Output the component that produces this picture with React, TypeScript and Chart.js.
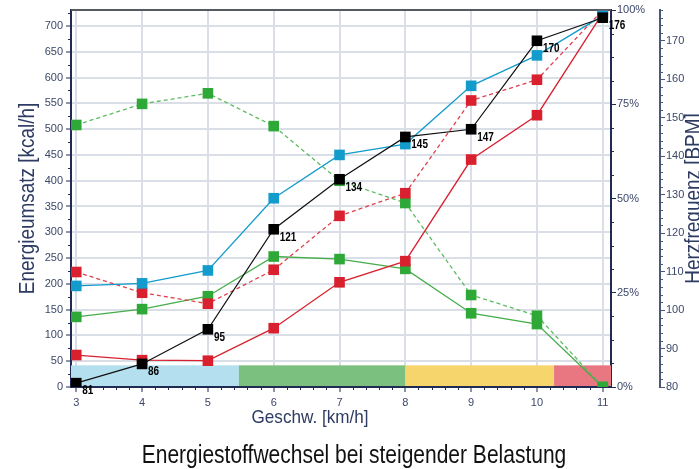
import React, { useEffect, useRef } from 'react';
import { Chart, registerables } from 'chart.js';

Chart.register(...registerables);

// ---------- data ----------
const speeds = [3, 4, 5, 6, 7, 8, 9, 10, 11];
const totalKcal = [196, 201, 226, 366, 450, 471, 584, 643, 720];
const fatKcal = [136, 151, 176, 253, 248, 229, 143, 122, 0];
const carbKcal = [62, 52, 51, 114, 203, 244, 441, 527, 725];
const fatPct = [69.5, 75.1, 77.9, 69.2, 54.7, 48.8, 24.4, 18.9, 0];
const carbPct = [30.5, 25.0, 22.1, 31.1, 45.4, 51.4, 76.0, 81.5, 100];
const heartRate = [81, 86, 95, 121, 134, 145, 147, 170, 176];

const xTicks = [3, 4, 5, 6, 7, 8, 9, 10, 11];
const kcalTicks = [0, 50, 100, 150, 200, 250, 300, 350, 400, 450, 500, 550, 600, 650, 700];
const pctTicks = [0, 25, 50, 75, 100];
const hrTicks = [80, 90, 100, 110, 120, 130, 140, 150, 160, 170];

const zoneEdges = [2.92, 5.47, 8.0, 10.26, 11.125];
const zoneColors = ['#b3dfee', '#7bc07e', '#f7d56d', '#e87782'];
const zoneTop = 42;

const chartTitle = 'Energiestoffwechsel bei steigender Belastung';
const xTitle = 'Geschw. [km/h]';
const yTitle = 'Energieumsatz [kcal/h]';
const hrTitle = 'Herzfrequenz [BPM]';

// ---------- styles ----------
const FONT = "'Liberation Sans', Arial, sans-serif";
const AXIS = '#1f2b52';
const HR_AXIS = '#4d5879';
const TICK = '#3c4769';
const TITLE_C = '#2e3b62';
const GRID = '#d9dee7';
const BLUE = '#139bcb';
const RED = '#d8202f';
const RED_D = '#e0414d';
const GREEN = '#2ea837';
const GREEN_L = '#45ad4a';
const GREEN_D = '#5cbb5f';

const pts = (arr: number[]) => speeds.map((s, i) => ({ x: s, y: arr[i] }));

const minorDefs: Record<string, { step: number; major: number; side: string }> = {
  x: { step: 0.2, major: 1, side: 'bottom' },
  y: { step: 25, major: 50, side: 'left' },
  pct: { step: 6.25, major: 25, side: 'right' },
  hr: { step: 2, major: 10, side: 'right' },
};

function condensedText(
  ctx: CanvasRenderingContext2D,
  text: string,
  x: number,
  y: number,
  font: string,
  sx: number,
  align: CanvasTextAlign,
  baseline: CanvasTextBaseline,
  rot = 0
) {
  ctx.save();
  ctx.translate(x, y);
  if (rot) ctx.rotate(rot);
  ctx.scale(sx, 1);
  ctx.font = font;
  ctx.textAlign = align;
  ctx.textBaseline = baseline;
  ctx.fillText(text, 0, 0);
  ctx.restore();
}

const decorPlugin = {
  id: 'decor',
  beforeDatasetsDraw(chart: any) {
    const { ctx, chartArea, scales } = chart;
    const xs = scales.x;
    const ys = scales.y;
    ctx.save();
    for (let i = 0; i < zoneColors.length; i++) {
      const x0 = xs.getPixelForValue(zoneEdges[i]);
      const x1 = xs.getPixelForValue(zoneEdges[i + 1]);
      const yT = ys.getPixelForValue(zoneTop);
      const yB = ys.getPixelForValue(0) - 1;
      ctx.fillStyle = zoneColors[i];
      ctx.fillRect(x0, yT, x1 - x0, yB - yT);
    }
    ctx.strokeStyle = '#555a60';
    ctx.lineWidth = 2;
    ctx.beginPath();
    ctx.moveTo(chartArea.left, chartArea.top);
    ctx.lineTo(chartArea.right, chartArea.top);
    ctx.stroke();
    ctx.restore();
  },
  afterDraw(chart: any) {
    const { ctx, chartArea, scales } = chart;
    ctx.save();
    // minor ticks
    Object.keys(minorDefs).forEach((id) => {
      const s = scales[id];
      const d = minorDefs[id];
      ctx.strokeStyle = id === 'hr' ? HR_AXIS : AXIS;
      ctx.lineWidth = 1;
      const start = Math.ceil(s.min / d.step) * d.step;
      for (let v = start; v <= s.max + 1e-9; v += d.step) {
        const r = v / d.major;
        if (Math.abs(r - Math.round(r)) < 1e-6) continue;
        const p = s.getPixelForValue(v);
        ctx.beginPath();
        if (d.side === 'bottom') {
          if (v < 3 || v > 11) continue;
          ctx.moveTo(Math.round(p) + 0.5, s.top);
          ctx.lineTo(Math.round(p) + 0.5, s.top + 3);
        } else if (d.side === 'left') {
          ctx.moveTo(s.right - 3, Math.round(p) + 0.5);
          ctx.lineTo(s.right, Math.round(p) + 0.5);
        } else {
          ctx.moveTo(s.left, Math.round(p) + 0.5);
          ctx.lineTo(s.left + 3, Math.round(p) + 0.5);
        }
        ctx.stroke();
      }
    });
    // heart-rate value labels
    const meta = chart.getDatasetMeta(0);
    ctx.fillStyle = '#000';
    meta.data.forEach((el: any, i: number) => {
      condensedText(ctx, String(heartRate[i]), el.x + 6, el.y + 8, `bold 12px ${FONT}`, 0.83, 'left', 'middle');
    });
    // axis titles
    ctx.fillStyle = TITLE_C;
    const cy = (chartArea.top + chartArea.bottom) / 2;
    condensedText(ctx, yTitle, 33.5, cy, `22px ${FONT}`, 0.86, 'center', 'alphabetic', -Math.PI / 2);
    condensedText(ctx, hrTitle, 700, cy, `22px ${FONT}`, 0.86, 'center', 'alphabetic', -Math.PI / 2);
    condensedText(ctx, xTitle, 310, 423, `19px ${FONT}`, 0.9, 'center', 'alphabetic');
    ctx.fillStyle = '#111';
    condensedText(ctx, chartTitle, 354, 463, `25px ${FONT}`, 0.84, 'center', 'alphabetic');
    ctx.restore();
  },
};

export default function App() {
  const ref = useRef<HTMLCanvasElement | null>(null);
  useEffect(() => {
    document.body.style.margin = '0';
    const canvas = ref.current;
    if (!canvas) return;
    const tickFont = { family: FONT, size: 11 };
    const common = { pointStyle: 'rect', pointRadius: 7.5, pointBorderWidth: 0, borderWidth: 1.3 };
    const chart = new Chart(canvas, {
      type: 'line',
      data: {
        datasets: [
          { label: 'Herzfrequenz', data: pts(heartRate), yAxisID: 'hr', borderColor: '#111', backgroundColor: '#000', ...common, borderWidth: 1.2 },
          { label: 'Gesamt', data: pts(totalKcal), yAxisID: 'y', borderColor: BLUE, backgroundColor: BLUE, ...common },
          { label: 'KH kcal', data: pts(carbKcal), yAxisID: 'y', borderColor: RED, backgroundColor: RED, ...common },
          { label: 'KH %', data: pts(carbPct), yAxisID: 'pct', borderColor: RED_D, backgroundColor: RED, borderDash: [4, 3], ...common },
          { label: 'Fett kcal', data: pts(fatKcal), yAxisID: 'y', borderColor: GREEN_L, backgroundColor: GREEN, ...common },
          { label: 'Fett %', data: pts(fatPct), yAxisID: 'pct', borderColor: GREEN_D, backgroundColor: GREEN, borderDash: [4, 3], ...common },
        ],
      },
      options: {
        animation: false,
        responsive: false,
        devicePixelRatio: 1,
        layout: { padding: { top: 10, bottom: 52, left: 0, right: 0 } },
        plugins: { legend: { display: false }, tooltip: { enabled: false } },
        scales: {
          x: {
            type: 'linear',
            position: 'bottom',
            min: zoneEdges[0],
            max: zoneEdges[zoneEdges.length - 1],
            afterBuildTicks: (s: any) => {
              s.ticks = xTicks.map((v) => ({ value: v }));
            },
            afterFit: (s: any) => {
              s.height = 30;
            },
            grid: { color: GRID, lineWidth: 2, tickLength: 5, tickColor: AXIS, tickWidth: 1 },
            border: { color: AXIS, width: 2 },
            ticks: { color: TICK, font: tickFont, padding: 4, maxRotation: 0, autoSkip: false, callback: (v: any) => String(v) },
          },
          y: {
            position: 'left',
            min: 0,
            max: 731,
            afterBuildTicks: (s: any) => {
              s.ticks = kcalTicks.map((v) => ({ value: v }));
            },
            afterFit: (s: any) => {
              s.width = 71;
            },
            grid: { color: GRID, lineWidth: 2, tickLength: 5, tickColor: AXIS, tickWidth: 1 },
            border: { color: AXIS, width: 2 },
            ticks: { color: TICK, font: tickFont, padding: 3, callback: (v: any) => String(v) },
          },
          pct: {
            position: 'right',
            min: 0,
            max: 100,
            afterBuildTicks: (s: any) => {
              s.ticks = pctTicks.map((v) => ({ value: v }));
            },
            afterFit: (s: any) => {
              s.width = 49;
            },
            grid: { drawOnChartArea: false, tickLength: 5, tickColor: AXIS, tickWidth: 1 },
            border: { color: AXIS, width: 2 },
            ticks: { color: TICK, font: tickFont, padding: 1, callback: (v: any) => v + '%' },
          },
          hr: {
            position: 'right',
            min: 80,
            max: 178,
            afterBuildTicks: (s: any) => {
              s.ticks = hrTicks.map((v) => ({ value: v }));
            },
            afterFit: (s: any) => {
              s.width = 39;
            },
            grid: { drawOnChartArea: false, tickLength: 5, tickColor: HR_AXIS, tickWidth: 1 },
            border: { color: HR_AXIS, width: 2 },
            ticks: { color: TICK, font: tickFont, padding: 1, callback: (v: any) => String(v) },
          },
        },
      },
      plugins: [decorPlugin],
    } as any);
    return () => chart.destroy();
  }, []);
  return (
    <div style={{ position: 'absolute', left: 0, top: 0, width: 699, height: 469 }}>
      <canvas ref={ref} width={699} height={469} />
    </div>
  );
}
